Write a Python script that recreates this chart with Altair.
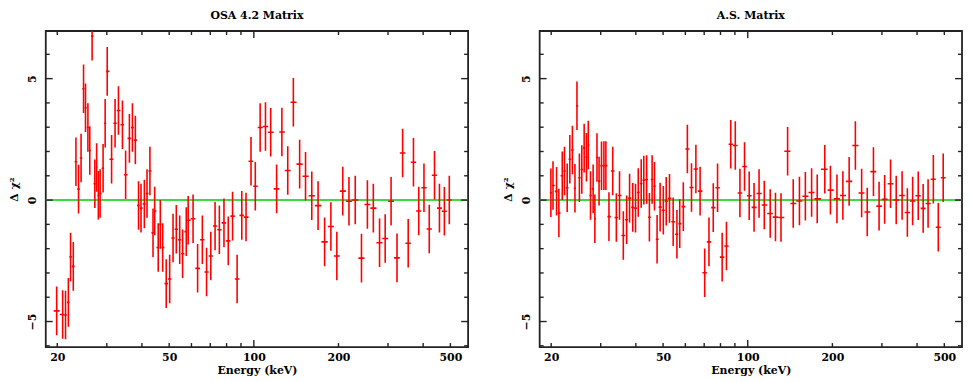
import altair as alt
import pandas as pd
import numpy as np

# ---------------- data ----------------
osa_energy = [19.9, 20.9, 21.4, 21.9, 22.3, 22.8, 23.3, 23.8, 24.3, 24.8, 25.2, 25.7, 26.1, 26.6,
              27.2, 27.6, 28.0, 28.4, 29.1, 29.6, 30.1, 31.2, 32.1, 33.0, 34.1, 35.0, 36.1, 37.0,
              37.9, 38.9, 39.7, 40.8, 41.7, 42.7, 43.8, 44.4, 45.7, 46.5, 47.4, 48.8, 50.2, 51.6,
              53.0, 54.5, 55.8, 57.5, 58.4,
              60.8, 63.1, 65.6, 67.9, 70.3, 72.8, 75.4, 78.3, 81.1, 84.0, 87.2, 90.6, 93.8, 97.7,
              101.2, 105.3, 110.0, 114.8, 120.5, 125.8, 132.0, 138.2, 145.5, 152.7, 160.7, 169.2,
              178.5,
              187.9, 197.3, 207.1, 217.9, 229.4, 241.4, 253.4, 266.0, 279.9, 293.1, 307.6, 322.9,
              338.1, 353.9, 369.5, 385.8, 402.7, 420.5, 439.0, 457.1, 475.9, 495.5]
osa_delta = [-4.56, -4.71, -4.73, -4.21, -2.34, -2.73, 1.58, 0.45, 1.73, 4.58, 3.80, 2.99, 2.04, 6.75,
             0.67, 1.34, 0.20, 0.27, 1.31, 3.16, 5.30, 1.68, 3.16, 3.69, 3.10, 1.04, 2.54, 2.99,
             2.47, -0.22, -0.33, -0.16, 0.27, 1.20, -1.35, -0.45, -1.95, -1.00, -1.95, -3.44, -3.25,
             -1.56, -1.20, -1.63, -2.21, -1.30, -0.83,
             -0.77, -2.81, -1.63, -2.96, -2.30, -1.07, -1.22, -0.94, -1.68, -0.66, -3.25, -0.63,
             -0.70, 1.60, 0.57, 2.99, 3.03, 2.79, 0.46, 2.80, 1.22, 4.03, 1.48, 0.98, 0.18, -0.23,
             -1.72,
             -1.09, -2.30, 0.37, -0.05, 0.00, -2.39, -0.18, -0.33, -1.76, -1.58, -0.05, -2.38, 1.94,
             -1.78, 1.56, -0.45, 0.51, -1.19, 1.02, -0.33, -0.46, 0.00]

as_energy = [19.95, 20.3, 20.9, 21.3, 21.9, 22.3, 22.8, 23.3, 23.8, 24.3, 24.7, 25.2, 25.7, 26.2,
             26.7, 27.1, 27.6, 28.2, 28.6, 29.1, 29.6, 30.2, 30.8, 31.3, 32.1, 33.1, 34.1, 35.0,
             36.1, 37.1, 38.0, 39.0, 39.9, 40.8, 41.8, 42.7, 43.7, 44.7, 45.7, 46.6, 47.6, 48.8,
             50.1, 51.3, 52.7, 54.3, 56.0, 57.3,
             59.0, 61.0, 63.1, 65.4, 67.7, 70.3, 72.8, 75.4, 78.1, 81.1, 84.0, 87.0, 90.3, 93.8,
             97.4, 101.2, 105.3, 109.7, 114.5, 120.2, 125.5, 131.3, 138.6, 145.1, 152.7, 160.3,
             168.7, 176.6,
             187.9, 196.8, 207.6, 217.9, 229.4, 241.4, 254.1, 266.0, 279.9, 293.1, 306.8, 322.0,
             337.2, 353.9, 369.5, 385.8, 403.9, 420.5, 437.8, 457.1, 475.9, 495.5]
as_delta = [0.30, 0.60, 0.36, -0.53, 1.00, 1.20, 0.51, 1.68, 2.06, 0.49, 3.88, 0.92, 1.26, 2.14,
            1.76, 2.27, 0.19, 0.46, -0.77, 1.75, 0.78, 1.41, 1.42, 1.42, -0.68, 1.20, -0.72, 0.19,
            -1.46, -0.81, 0.08, -0.30, -0.33, 0.31, 0.68, 0.82, 0.85, -0.71, 0.85, 0.57, -1.61,
            -0.29, -0.42, -0.05, 0.07, -0.89, -1.41, -0.97,
            -0.27, 2.10, 0.52, 1.28, 0.37, -2.99, -1.72, -0.31, 0.51, -2.35, -1.89, 2.30, 2.25,
            0.29, 1.38, 0.18, -0.30, 0.27, -0.20, -0.55, -0.70, -0.72, 2.01, -0.14, -0.04, 0.16,
            0.31, 0.05,
            1.27, 0.41, 0.05, 0.19, 0.77, 2.25, 0.29, -0.49, 1.17, -0.25, 0.03, 0.67, 0.00, 0.19,
            -0.51, -0.04, 0.18, -0.34, -0.14, 0.86, -1.12, 0.92]

sigma = 1.0  # residuals are in units of sigma

titles = ["OSA 4.2 Matrix", "A.S. Matrix"]
x_label_values = [20, 50, 100, 200, 500]
y_label_values = [-5, 0, 5]
x_minor_ticks = [20, 30, 40, 50, 60, 70, 80, 90, 200, 300, 400, 500]
x_major_ticks = [100]
y_minor_ticks = [-6, -4, -3, -2, -1, 1, 2, 3, 4, 6]
y_major_ticks = [-5, 0, 5]

# ---------------- styling ----------------
W, H = 425, 318
FONT = "DejaVu Serif"
FS = 11
RED = "#ff0000"
GREEN = "#3fdc3f"
FRAME = "#222222"
MINOR, MAJOR = 4, 7

xscale = alt.Scale(type="log", domain=[18.2, 578], nice=False)
yscale = alt.Scale(domain=[-6.05, 6.96], nice=False, zero=False)
xaxis = alt.Axis(values=x_label_values, format="d", ticks=False, tickSize=0, domain=False,
                 grid=False, title="Energy (keV)", labelPadding=5, titlePadding=2,
                 labelFont=FONT, titleFont=FONT, labelFontSize=FS, titleFontSize=FS,
                 labelFontWeight="bold", titleFontWeight="bold", labelColor="black",
                 titleColor="black", labelFlush=False)
yaxis = alt.Axis(values=y_label_values, ticks=False, tickSize=0, domain=False, grid=False,
                 title="Δ χ²", labelAngle=-90, labelAlign="center", labelBaseline="bottom",
                 labelPadding=8, titlePadding=7, labelFont=FONT, titleFont=FONT,
                 labelFontSize=FS, titleFontSize=FS, labelFontWeight="bold",
                 titleFontWeight="bold", labelColor="black", titleColor="black",
                 labelFlush=False)


def bin_edges(e):
    e = np.asarray(e, dtype=float)
    mids = np.sqrt(e[:-1] * e[1:])
    lo = np.concatenate([[e[0] * np.sqrt(e[0] / e[1])], mids])
    hi = np.concatenate([mids, [e[-1] * np.sqrt(e[-1] / e[-2])]])
    return lo, hi


def panel(energy, delta, title):
    lo, hi = bin_edges(energy)
    df = pd.DataFrame({"E": energy, "d": delta, "lo": lo, "hi": hi})
    df["dlo"] = df["d"] - sigma
    df["dhi"] = df["d"] + sigma

    X = lambda f: alt.X(f, type="quantitative", scale=xscale, axis=xaxis)
    Y = lambda f: alt.Y(f, type="quantitative", scale=yscale, axis=yaxis)

    base = alt.Chart(df)
    vbars = base.mark_rule(color=RED, strokeWidth=1.6, clip=True).encode(
        x=X("E"), y=Y("dlo"), y2="dhi")
    hbars = base.mark_rule(color=RED, strokeWidth=1.6, clip=True).encode(
        x=X("lo"), x2="hi", y=Y("d"))
    zero = alt.Chart(pd.DataFrame({"z": [0]})).mark_rule(color=GREEN, strokeWidth=2).encode(
        y=Y("z"), x=alt.value(0), x2=alt.value(W))

    layers = [zero, vbars, hbars]
    for vals, L in [(x_minor_ticks, MINOR), (x_major_ticks, MAJOR)]:
        tdf = pd.DataFrame({"t": vals})
        layers.append(alt.Chart(tdf).mark_rule(color=FRAME, strokeWidth=1.4).encode(
            x=X("t"), y=alt.value(0), y2=alt.value(L)))
        layers.append(alt.Chart(tdf).mark_rule(color=FRAME, strokeWidth=1.4).encode(
            x=X("t"), y=alt.value(H), y2=alt.value(H - L)))
    for vals, L in [(y_minor_ticks, MINOR), (y_major_ticks, MAJOR)]:
        tdf = pd.DataFrame({"t": vals})
        layers.append(alt.Chart(tdf).mark_rule(color=FRAME, strokeWidth=1.4).encode(
            y=Y("t"), x=alt.value(0), x2=alt.value(L)))
        layers.append(alt.Chart(tdf).mark_rule(color=FRAME, strokeWidth=1.4).encode(
            y=Y("t"), x=alt.value(W), x2=alt.value(W - L)))

    return alt.layer(*layers).properties(
        width=W, height=H,
        title=alt.Title(title, font=FONT, fontSize=FS, fontWeight="bold", color="black",
                        anchor="middle", offset=9))


chart = alt.hconcat(
    panel(osa_energy, osa_delta, titles[0]),
    panel(as_energy, as_delta, titles[1]),
    spacing=32,
).properties(padding=0, background="white").configure_view(
    stroke=FRAME, strokeWidth=1.8
)

chart.save("out.html", embed_options={"renderer": "svg", "actions": False})
